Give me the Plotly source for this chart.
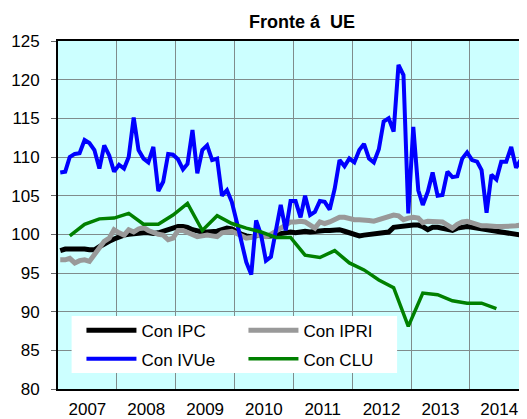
"""Fronte á UE — índices de competitividade (IPC, IPRI, IVUe, CLU)."""

import pandas as pd
import plotly.graph_objects as go

# monthly series, Jan 2007 onwards
ipc = [
    97.9, 98.1, 98.1, 98.1, 98.2, 98.1, 98.0, 98.0, 98.4, 98.8, 99.1, 99.4,
    99.7, 99.9, 100.0, 100.1, 100.1, 100.2, 100.2, 100.1, 100.2, 100.4, 100.6, 100.8,
    101.0, 101.0, 100.9, 100.6, 100.4, 100.3, 100.3, 100.3, 100.4, 100.6, 100.8, 100.7,
    100.3, 100.0, 99.8, 99.7, 99.8, 99.9, 99.8, 99.8, 100.0, 100.1, 100.1, 100.3,
    100.2, 100.3, 100.4, 100.3, 100.4, 100.5, 100.5, 100.5, 100.6, 100.6, 100.4, 100.2,
    100.0, 99.8, 99.9, 100.0, 100.1, 100.2, 100.2, 100.3, 100.9, 101.0, 101.0, 101.1,
    101.2, 101.2, 101.0, 100.6, 100.9, 100.9, 100.8, 100.6, 100.5, 100.8, 100.9, 101.0,
    100.9, 100.8, 100.7, 100.7, 100.6, 100.4, 100.3, 100.2, 100.1, 100.0, 99.9, 99.7,
]
ipri = [
    96.7, 96.7, 96.9, 96.3, 96.6, 96.7, 96.5, 97.3, 98.3, 99.1, 99.5, 100.6,
    100.2, 99.9, 100.6, 100.3, 100.7, 100.9, 100.5, 100.2, 100.0, 99.9, 99.3, 99.5,
    100.5, 100.5, 100.3, 100.0, 99.7, 99.8, 99.9, 99.8, 99.7, 100.2, 100.3, 100.4,
    100.1, 99.8, 99.5, 99.6, 99.9, 99.8, 99.7, 100.0, 100.4, 100.9, 101.3, 101.6,
    101.6, 101.7, 101.6, 101.2, 100.8, 101.6, 101.4, 101.6, 101.9, 102.2, 102.2, 102.0,
    101.9, 101.9, 101.9, 101.8, 101.7, 101.9, 102.1, 102.2, 102.5, 102.4, 101.9, 102.1,
    102.2, 102.1, 101.5, 101.7, 101.7, 101.7, 101.6, 101.2, 100.8, 101.3, 101.6, 101.7,
    101.5, 101.2, 101.1, 101.1, 101.0, 101.0, 101.0, 101.0, 101.0, 101.1, 101.2,
]
ivue = [
    108.0, 108.1, 110.0, 110.4, 110.5, 112.2, 111.8, 110.9, 108.5, 111.5, 110.2, 108.1,
    109.0, 108.5, 110.0, 115.1, 110.9, 109.8, 109.3, 111.3, 105.6, 106.8, 110.4, 110.3,
    109.7, 108.4, 109.1, 113.5, 107.9, 110.9, 111.5, 109.6, 109.8, 105.0, 105.7, 104.2,
    101.6, 99.0, 96.4, 94.8, 101.8, 99.9, 96.6, 97.1, 100.3, 103.8, 100.5, 104.3,
    104.3, 102.2, 105.0, 102.5, 102.9, 104.3, 104.2, 103.2, 105.9, 109.6, 108.8, 109.8,
    109.3, 110.9, 111.7, 109.8, 109.3, 111.0, 114.6, 115.0, 113.3, 121.9, 120.6, 102.7,
    113.9, 105.7, 103.8, 105.5, 108.0, 105.0, 105.1, 108.1, 107.4, 107.5, 109.8, 110.6,
    109.6, 109.4, 108.3, 102.8, 107.7, 107.1, 109.4, 109.4, 111.3, 108.6, 109.7,
]
# quarterly series, Q1 2007 - Q2 2014
clu = [
    99.8, 101.3, 102.0, 102.1,
    102.7, 101.3, 101.3, 102.5,
    104.0, 100.5, 102.4, 101.4,
    100.8, 100.3, 99.6, 99.6,
    97.3, 97.0, 97.9, 96.3,
    95.4, 94.1, 93.1, 88.1,
    92.4, 92.2, 91.4, 91.1,
    91.1, 90.4,
]

months = pd.date_range("2007-01-01", periods=96, freq="MS") + pd.Timedelta(days=14)
quarters = pd.date_range("2007-03-01", periods=len(clu), freq="3MS") + pd.Timedelta(days=14)

FONT = "Liberation Sans, Arial, sans-serif"
BG = "#CCFFFF"
GRID = "#7F8C8C"

fig = go.Figure()
fig.add_trace(go.Scatter(x=months[:len(ipc)], y=ipc, name="Con IPC", mode="lines",
                         line=dict(color="#000000", width=5), legend="legend"))
fig.add_trace(go.Scatter(x=months[:len(ipri)], y=ipri, name="Con IPRI", mode="lines",
                         line=dict(color="#999999", width=5), legend="legend"))
fig.add_trace(go.Scatter(x=months[:len(ivue)], y=ivue, name="Con IVUe", mode="lines",
                         line=dict(color="#0000FF", width=4), legend="legend2"))
fig.add_trace(go.Scatter(x=quarters, y=clu, name="Con CLU", mode="lines",
                         line=dict(color="#008000", width=3.5), legend="legend2"))

legend_common = dict(
    orientation="h", xanchor="left", yanchor="middle", x=0.05,
    bgcolor="rgba(0,0,0,0)", borderwidth=0, itemwidth=50,
    entrywidth=97, entrywidthmode="pixels",
    font=dict(family=FONT, size=17, color="#000000"),
)

# the page adds an 8px body margin, so the figure is 8px smaller than the window
fig.update_layout(
    width=519, height=411,
    margin=dict(l=50, r=0, t=33, b=30, autoexpand=False),
    paper_bgcolor="#FFFFFF",
    plot_bgcolor=BG,
    font=dict(family=FONT, size=17, color="#000000"),
    title=dict(text="<b>Fronte á  UE</b>", x=0.5665, xanchor="center",
               y=0.966, yanchor="middle", yref="container",
               font=dict(family=FONT, size=18, color="#000000")),
    showlegend=True,
    legend=dict(legend_common, y=0.1675),
    legend2=dict(legend_common, y=0.0853),
    xaxis=dict(
        type="date", range=["2007-01-01", "2014-12-22"], automargin=False,
        tick0="2007-01-01", dtick="M12", tickformat="%Y", ticklabelmode="period",
        ticks="", showgrid=True, gridcolor=GRID, gridwidth=1,
        showline=True, linecolor="#000000", linewidth=2, mirror=True,
        ticklabelstandoff=4, tickfont=dict(size=17), zeroline=False,
    ),
    yaxis=dict(
        range=[80, 125], dtick=5, tick0=80, automargin=False,
        ticks="outside", ticklen=5, tickcolor="#666666", tickwidth=1,
        showgrid=True, gridcolor=GRID, gridwidth=1,
        showline=True, linecolor="#000000", linewidth=2, mirror=False,
        ticklabelstandoff=8, tickfont=dict(size=17), zeroline=False,
    ),
    shapes=[dict(type="rect", xref="paper", yref="paper",
                 x0=0.029, x1=0.723, y0=0.046, y1=0.210,
                 fillcolor="#FFFFFF", line=dict(width=0), layer="above")],
)

fig.write_html("out.html")
